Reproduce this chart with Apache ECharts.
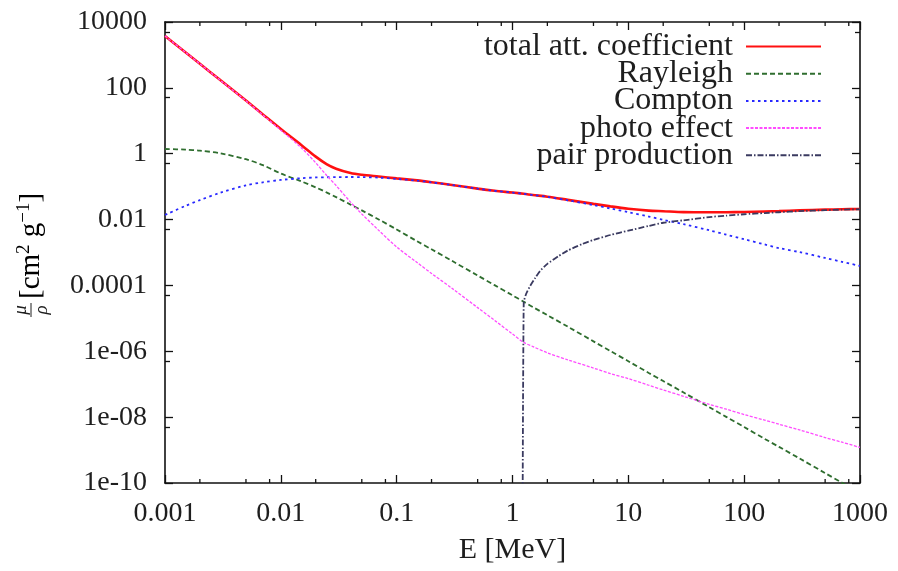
<!DOCTYPE html>
<html>
<head>
<meta charset="utf-8">
<script src="https://cdn.jsdelivr.net/npm/echarts@6/dist/echarts.min.js"></script>
<style>
  html, body { margin: 0; padding: 0; background: #ffffff; }
  #chart { width: 898px; height: 571px; }
</style>
</head>
<body>
<div id="chart"></div>
<script>
// Photon energies in MeV
const energies = [0.001, 0.0015, 0.002, 0.003, 0.005, 0.007, 0.01, 0.015, 0.02, 0.025,
  0.03, 0.04, 0.05, 0.07, 0.1, 0.15, 0.2, 0.3, 0.5, 0.7,
  1, 1.25, 1.5, 2, 3, 5, 7, 10, 15, 20,
  30, 50, 70, 100, 150, 200, 300, 500, 700, 1000];

// Mass attenuation coefficients in cm^2/g
const totalAtt = [3760, 1210, 540, 172, 41.3, 15.6, 5.6, 1.845, 0.815, 0.474,
  0.351, 0.2585, 0.2288, 0.2028, 0.1785, 0.1547, 0.1365, 0.1126, 0.0872, 0.0751,
  0.0661, 0.0606, 0.0557, 0.0495, 0.0397, 0.0300, 0.0252, 0.0214, 0.0187, 0.0179,
  0.0168, 0.0166, 0.0167, 0.0170, 0.0176, 0.0181, 0.0190, 0.0200, 0.0205, 0.0210];
const rayleigh = [1.39, 1.33, 1.24, 1.03, 0.68, 0.45, 0.25, 0.145, 0.095, 0.066,
  0.048, 0.0285, 0.019, 0.0101, 0.005, 0.0022, 0.00125, 5.6e-4, 2e-4, 1.02e-4,
  5e-5, 3.2e-5, 2.2e-5, 1.25e-5, 5.6e-6, 2e-6, 1.02e-6, 5e-7, 2.2e-7, 1.25e-7,
  5.6e-8, 2e-8, 1.02e-8, 5e-9, 2.2e-9, 1.25e-9, 5.6e-10, 2e-10, 1.02e-10, 5e-11];
const compton = [0.0138, 0.026, 0.039, 0.065, 0.11, 0.135, 0.16, 0.18, 0.19, 0.193,
  0.195, 0.196, 0.195, 0.188, 0.172, 0.152, 0.135, 0.112, 0.087, 0.075,
  0.066, 0.0605, 0.0555, 0.049, 0.0385, 0.0276, 0.0218, 0.0168, 0.01234, 0.00986,
  0.00728, 0.00472, 0.00349, 0.00253, 0.00176, 0.00136, 0.00103, 0.000683, 0.000522, 0.000392];
const photoEffect = [3758, 1208, 538, 171, 40.5, 15, 5.2, 1.52, 0.53, 0.215,
  0.108, 0.034, 0.0148, 0.0047, 0.00147, 4.97e-4, 2.31e-4, 8.2e-5, 2.12e-5, 8.7e-6,
  3.35e-6, 1.86e-6, 1.39e-6, 9.0e-7, 5.5e-7, 3.1e-7, 2.1e-7, 1.48e-7, 9.3e-8, 6.7e-8,
  4.3e-8, 2.45e-8, 1.75e-8, 1.2e-8, 8.1e-9, 6.1e-9, 4.1e-9, 2.4e-9, 1.73e-9, 1.2e-9];

// Pair production sets in just above 1.022 MeV
const pairEnergies = [1.22, 1.25, 1.31, 1.42, 1.57, 1.73, 2, 2.5, 3, 4,
  5, 7, 10, 15, 20, 30, 50, 70, 100, 150, 200, 300, 500, 700, 1000];
const pairProduction = [1e-12, 3e-5, 5.5e-5, 9.6e-5, 1.68e-4, 2.75e-4, 4.5e-4, 7.8e-4, 1.15e-3, 1.81e-3,
  2.4e-3, 3.4e-3, 4.6e-3, 6.4e-3, 8.0e-3, 9.5e-3, 0.0119, 0.0132, 0.0145, 0.0158, 0.0167, 0.018, 0.0193, 0.02, 0.0206];

// Axis ticks
const xTickValues = [0.001, 0.01, 0.1, 1, 10, 100, 1000];
const xTickLabels = ['0.001', '0.01', '0.1', '1', '10', '100', '1000'];
const xMinorTickValues = [0.002, 0.005, 0.008, 0.02, 0.05, 0.08, 0.2, 0.5, 0.8,
  2, 5, 8, 20, 50, 80, 200, 500, 800];
const yTickValues = [1e4, 1e2, 1, 1e-2, 1e-4, 1e-6, 1e-8, 1e-10];
const yTickLabels = ['10000', '100', '1', '0.01', '0.0001', '1e-06', '1e-08', '1e-10'];

const seriesNames = ['total att. coefficient', 'Rayleigh', 'Compton', 'photo effect', 'pair production'];

const FONT = 'Liberation Serif';
const INK = '#1e1e1e';

function pairs(xs, values) {
  const out = [];
  xs.forEach((e, i) => { if (values[i] != null) out.push([e, values[i]]); });
  return out;
}
function tickLabel(values, labels, v) {
  const lv = Math.log10(v);
  for (let i = 0; i < values.length; i++) {
    if (Math.abs(Math.log10(values[i]) - lv) < 1e-6) return labels[i];
  }
  return '';
}

const chart = echarts.init(document.getElementById('chart'), null, { renderer: 'canvas' });

const axisLine = { show: true, onZero: false, lineStyle: { color: '#111', width: 1.6 } };
const baseX = {
  type: 'log', logBase: 10, min: 0.001, max: 1000, interval: 1,
  axisLine: axisLine,
  axisTick: { show: true, inside: true, length: 8, lineStyle: { color: '#111', width: 1.3 } },
  splitLine: { show: false }
};
const baseY = {
  type: 'log', logBase: 10, min: 1e-10, max: 1e4, interval: 2,
  axisLine: axisLine,
  axisTick: { show: true, inside: true, length: 8, lineStyle: { color: '#111', width: 1.3 } },
  minorTick: { show: true, splitNumber: 2, length: 5, lineStyle: { color: '#111', width: 1.3 } },
  splitLine: { show: false }
};

function lineSeries(name, xs, values, color, width, dash, smooth) {
  return {
    name: name, type: 'line', data: pairs(xs, values), symbol: 'none',
    smooth: smooth,
    lineStyle: { color: color, width: width, type: dash },
    itemStyle: { color: color, opacity: 0 }
  };
}

const option = {
  backgroundColor: '#ffffff',
  animation: false,
  grid: { left: 165, right: 38, top: 22, bottom: 88, containLabel: false, outerBoundsMode: 'none' },
  xAxis: [
    Object.assign({}, baseX, {
      position: 'bottom',
      name: 'E [MeV]', nameLocation: 'middle', nameGap: 52,
      nameTextStyle: { fontFamily: FONT, fontSize: 30, color: INK },
      axisLabel: {
        margin: 17, fontFamily: FONT, fontSize: 28, color: INK,
        formatter: v => tickLabel(xTickValues, xTickLabels, v)
      }
    }),
    Object.assign({}, baseX, { position: 'top', axisLabel: { show: false } })
  ],
  yAxis: [
    Object.assign({}, baseY, {
      position: 'left',
      axisLabel: {
        margin: 18, fontFamily: FONT, fontSize: 28, color: INK,
        formatter: v => tickLabel(yTickValues, yTickLabels, v)
      }
    }),
    Object.assign({}, baseY, { position: 'right', axisLabel: { show: false } })
  ],
  legend: {
    orient: 'vertical', right: 71, top: 25.5, align: 'right',
    itemWidth: 75, itemHeight: 14, itemGap: -4.8,
    itemStyle: { opacity: 0 },
    textStyle: { fontFamily: FONT, fontSize: 32, color: INK, padding: [0, 8, 0, 0] },
    data: seriesNames
  },
  graphic: [{
    type: 'group', x: 31, y: 255, rotation: Math.PI / 2, silent: true,
    children: [
      { type: 'text', style: { text: 'μ', x: -55, y: -1, font: 'italic 19px "Liberation Serif"', fill: INK, textAlign: 'center', textVerticalAlign: 'bottom' } },
      { type: 'line', shape: { x1: -62, y1: 0, x2: -48, y2: 0 }, style: { stroke: INK, lineWidth: 1 } },
      { type: 'text', style: { text: 'ρ', x: -55, y: 1, font: 'italic 19px "Liberation Serif"', fill: INK, textAlign: 'center', textVerticalAlign: 'top' } },
      { type: 'text', style: {
          text: '{b|[cm}{s|2}{b| g}{s|−1}{b|]}', x: -44, y: 0,
          textAlign: 'left', textVerticalAlign: 'middle',
          rich: {
            b: { fontFamily: FONT, fontSize: 29, color: INK, lineHeight: 32 },
            s: { fontFamily: FONT, fontSize: 19, color: INK, verticalAlign: 'top', lineHeight: 20 }
          }
        } }
    ]
  }],
  series: [
    lineSeries(seriesNames[0], energies, totalAtt, '#ff1010', 2.6, 'solid', 0.3),
    lineSeries(seriesNames[1], energies, rayleigh, '#2f6e2f', 1.8, [5, 3], 0.3),
    lineSeries(seriesNames[2], energies, compton, '#2828ff', 1.8, [2.5, 3.5], 0.3),
    lineSeries(seriesNames[3], energies, photoEffect, '#ff4cff', 1.3, [3, 1.5], 0.3),
    lineSeries(seriesNames[4], pairEnergies, pairProduction, '#3a3a60', 1.8, [6, 2, 1.5, 2], 0.2),
    {
      // minor ticks of the energy axis, at 2, 5 and 8 per decade, on bottom and top frame
      type: 'custom', silent: true, clip: false, z: 3,
      data: xMinorTickValues.map(v => [v]),
      encode: { x: 0 },
      renderItem: function (params, api) {
        const v = api.value(0);
        const b = api.coord([v, 1e-10]);
        const t = api.coord([v, 1e4]);
        const st = { stroke: '#111', lineWidth: 1.3 };
        return {
          type: 'group',
          children: [
            { type: 'line', shape: { x1: b[0], y1: b[1], x2: b[0], y2: b[1] - 4 }, style: st },
            { type: 'line', shape: { x1: t[0], y1: t[1], x2: t[0], y2: t[1] + 4 }, style: st }
          ]
        };
      }
    }
  ]
};

chart.setOption(option);
</script>
</body>
</html>
